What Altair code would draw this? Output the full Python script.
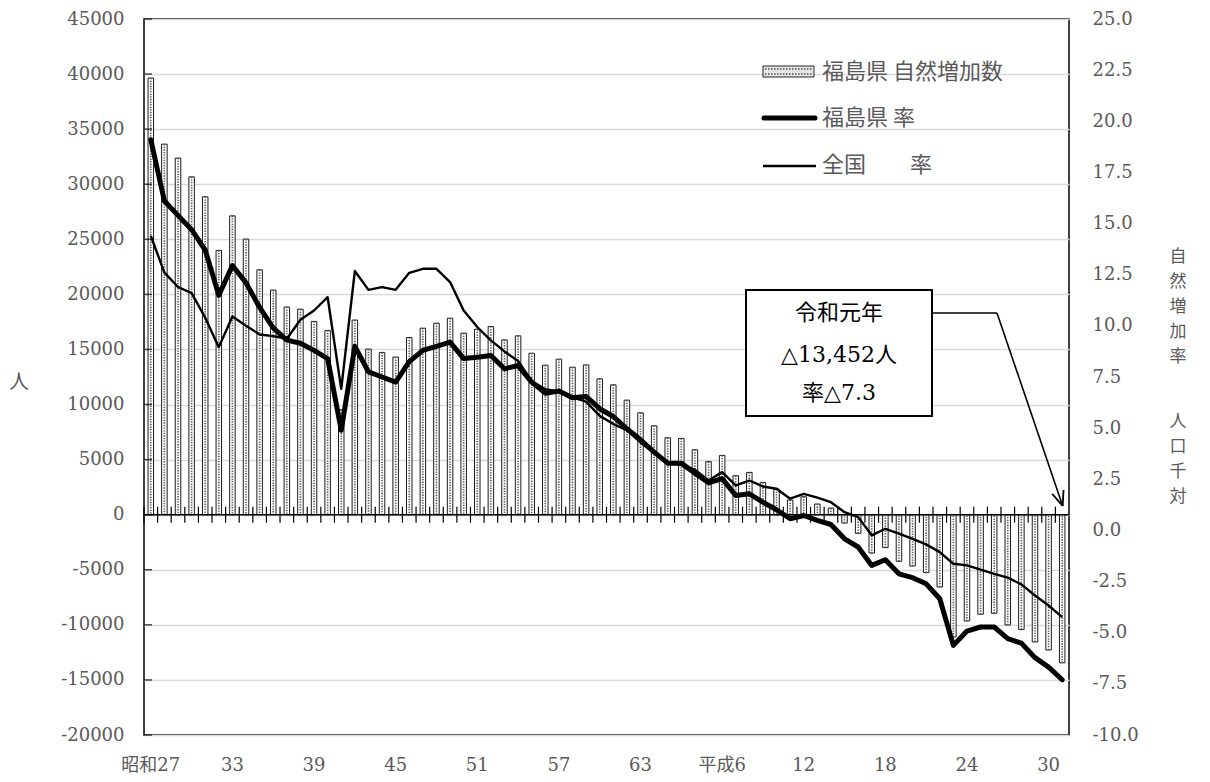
import altair as alt
import pandas as pd

# ---------------- data ----------------
years = [str(y) for y in range(1952, 2020)]  # 昭和27 … 令和元

natural_increase = [
    39640, 33640, 32370, 30670, 28860, 23990, 27130, 25020, 22230, 20390,
    18850, 18660, 17545, 16730, 9530, 17670, 15030, 14730, 14310, 16090,
    16930, 17380, 17840, 16480, 16840, 17080, 15870, 16235, 14660, 13575,
    14120, 13390, 13600, 12335, 11790, 10400, 9250, 8070, 6985, 6925,
    5895, 4820, 5380, 3540, 3840, 2930, 2330, 1330, 1630, 970,
    600, -760, -1690, -3480, -2990, -4230, -4660, -5260, -6560, -11100,
    -9650, -9040, -8950, -10010, -10430, -11550, -12280, -13452,
]

fukushima_rate = [
    19.1, 16.1, 15.4, 14.7, 13.7, 11.5, 12.95, 12.1, 10.9, 9.9,
    9.3, 9.15, 8.8, 8.4, 4.9, 9.0, 7.75, 7.5, 7.25, 8.25,
    8.8, 9.0, 9.2, 8.4, 8.47, 8.55, 7.9, 8.06, 7.25, 6.71,
    6.81, 6.49, 6.55, 5.95, 5.57, 4.97, 4.43, 3.83, 3.29, 3.29,
    2.8, 2.33, 2.53, 1.71, 1.79, 1.38, 1.01, 0.57, 0.73, 0.49,
    0.29, -0.41, -0.81, -1.71, -1.43, -2.12, -2.31, -2.61, -3.34, -5.62,
    -4.92, -4.72, -4.72, -5.29, -5.51, -6.22, -6.68, -7.3,
]

national_rate = [
    14.4, 12.6, 11.9, 11.6, 10.4, 8.96, 10.46, 10.0, 9.58, 9.5,
    9.37, 10.3, 10.75, 11.4, 6.92, 12.68, 11.76, 11.89, 11.76, 12.59,
    12.79, 12.79, 12.14, 10.75, 9.94, 9.29, 8.75, 8.28, 7.3, 6.9,
    6.8, 6.5, 6.3, 5.6, 5.2, 4.9, 4.3, 3.8, 3.3, 3.2,
    2.97, 2.44, 2.85, 2.2, 2.44, 2.15, 2.04, 1.55, 1.79, 1.6,
    1.38, 0.89, 0.65, -0.24, 0.08, -0.16, -0.41, -0.68, -1.06, -1.63,
    -1.71, -1.92, -2.12, -2.31, -2.64, -3.18, -3.67, -4.24,
]

label_years = ["1952", "1958", "1964", "1970", "1976", "1982",
               "1988", "1994", "2000", "2006", "2012", "2018"]
label_texts = ["昭和27", "33", "39", "45", "51", "57",
               "63", "平成6", "12", "18", "24", "30"]

left_ticks = [-20000, -15000, -10000, -5000, 0, 5000, 10000, 15000,
              20000, 25000, 30000, 35000, 40000, 45000]
right_ticks = [-10.0, -7.5, -5.0, -2.5, 0.0, 2.5, 5.0, 7.5, 10.0,
               12.5, 15.0, 17.5, 20.0, 22.5, 25.0]

legend_labels = ["福島県 自然増加数", "福島県 率", "全国\u3000\u3000率"]
note_lines = ["令和元年", "△13,452人", "率△7.3"]
left_title = "人"
right_title_a = ["自", "然", "増", "加", "率"]
right_title_b = ["人", "口", "千", "対"]

df = pd.DataFrame({
    "year": years,
    "count": natural_increase,
    "fk": fukushima_rate,
    "jp": national_rate,
})
labels_df = pd.DataFrame({"year": label_years, "text": label_texts})

# ---------------- styling ----------------
NUM_FONT = "DejaVu Serif, Noto Sans CJK JP"
JP_FONT = "Noto Sans CJK JP"
GREY = "#595959"

x_scale = alt.Scale(paddingInner=0, paddingOuter=0)


def X(**kw):
    return alt.X("year:O", scale=x_scale, axis=None, title=None, **kw)


left_scale = alt.Scale(domain=[-20000, 45000], nice=False)
left_axis = alt.Axis(
    values=left_ticks, grid=True, gridColor="#d9d9d9", gridWidth=1.5,
    ticks=False, domain=False, labelPadding=20, title=None,
    labelFont=NUM_FONT, labelFontSize=18, labelColor=GREY,
    labelExpr="datum.value < 0 ? '-' + format(-datum.value, 'd') : format(datum.value, 'd')",
)
right_scale = alt.Scale(domain=[-10, 25], nice=False)
right_axis = alt.Axis(
    orient="right", values=right_ticks, grid=False, ticks=False,
    domain=False, labelPadding=23, title=None, labelFont=NUM_FONT,
    labelFontSize=18, labelColor=GREY,
    labelExpr="datum.value < 0 ? '-' + format(-datum.value, '.1f') : format(datum.value, '.1f')",
)

base = alt.Chart(df)
one = alt.Data(values=[{"a": 1}])
OX, OY = 144, 19  # plot origin on the page

# ---------------- count layers (fixed domain, so independent scales coincide) ----------------
bars = base.mark_bar(size=5.5, fill="white", stroke="#1a1a1a", strokeWidth=1).encode(
    x=X(),
    y=alt.Y("count:Q", scale=left_scale, axis=left_axis, title=None),
)
dots = base.transform_calculate(z="0").mark_rule(
    color="#555555", strokeWidth=1.6, strokeDash=[1.3, 1.3]
).encode(
    x=X(),
    y=alt.Y("count:Q", scale=left_scale, axis=None),
    y2="z:Q",
)
zero_line = alt.Chart(pd.DataFrame({"z": [0]})).mark_rule(color="black", strokeWidth=1.5).encode(
    y=alt.Y("z:Q", scale=left_scale, axis=None),
)
x_ticks = base.transform_calculate(lo="-725", hi="725").mark_rule(
    color="black", strokeWidth=1.2
).encode(
    x=X(bandPosition=0),
    y=alt.Y("lo:Q", scale=left_scale, axis=None),
    y2="hi:Q",
)
y_ticks = alt.Chart(pd.DataFrame({"v": left_ticks})).mark_tick(
    orient="horizontal", size=8, thickness=1.5, color="black"
).encode(
    y=alt.Y("v:Q", scale=left_scale, axis=None),
    x=alt.value(4),
)
x_labels = alt.Chart(labels_df).mark_text(
    font=NUM_FONT, fontSize=18, color=GREY, baseline="middle", align="center"
).encode(
    x=X(),
    y=alt.value(766 - OY),
    text="text:N",
)

# ---------------- rate layers ----------------
fk_line = base.mark_line(color="black", strokeWidth=5, strokeJoin="round", strokeCap="round").encode(
    x=X(),
    y=alt.Y("fk:Q", scale=right_scale, axis=None),
)
jp_line = base.mark_line(color="black", strokeWidth=2.4, strokeJoin="round").encode(
    x=X(),
    y=alt.Y("jp:Q", scale=right_scale, axis=right_axis, title=None),
)

# ---------------- annotations (pixel positions) ----------------


def seg(x1, y1, x2, y2, w=1.5, dash=None, cap="butt"):
    kw = dict(color="black", strokeWidth=w, strokeCap=cap)
    if dash:
        kw["strokeDash"] = dash
    return alt.Chart(one).mark_rule(**kw).encode(
        x=alt.value(x1 - OX), y=alt.value(y1 - OY),
        x2=alt.value(x2 - OX), y2=alt.value(y2 - OY),
    )


def txt(s, x, y, size=20, font=JP_FONT, color=GREY, align="left", baseline="middle"):
    return alt.Chart(one).mark_text(
        font=font, fontSize=size, color=color, align=align, baseline=baseline
    ).encode(
        x=alt.value(x - OX), y=alt.value(y - OY), text=alt.value(s),
    )


def rect(x1, y1, x2, y2, fill="white", stroke="black", w=1.0):
    return alt.Chart(one).mark_rect(fill=fill, stroke=stroke, strokeWidth=w).encode(
        x=alt.value(x1 - OX), y=alt.value(y1 - OY),
        x2=alt.value(x2 - OX), y2=alt.value(y2 - OY),
    )


annots = [
    # legend
    rect(763, 66, 814, 77, fill="#e6e6e6", stroke="#222222", w=1.0),
    seg(765, 69, 812, 69, w=1.2, dash=[1.5, 1.5]),
    seg(765, 74, 812, 74, w=1.2, dash=[1.5, 1.5]),
    txt(legend_labels[0], 822, 72, size=22),
    seg(764, 118, 815, 118, w=5, cap="round"),
    txt(legend_labels[1], 822, 118, size=22),
    seg(763, 166, 816, 166, w=2.4),
    txt(legend_labels[2], 822, 165, size=22),
    # note box
    rect(746, 290, 932, 416, fill="white", stroke="black", w=2.0),
    txt(note_lines[0], 839, 313, size=22, font=NUM_FONT, color="black", align="center"),
    txt(note_lines[1], 839, 355, size=22, font=NUM_FONT, color="black", align="center"),
    txt(note_lines[2], 839, 393, size=22, font=NUM_FONT, color="black", align="center"),
    # connector + arrow
    seg(932, 313, 997, 313, w=1.6),
    seg(997, 313, 1062.7, 506, w=1.6),
    seg(1062.7, 506, 1063.5, 490, w=1.8),
    seg(1062.7, 506, 1052.2, 493.8, w=1.8),
    # axis titles
    txt(left_title, 19, 383, size=20, align="center"),
]
for k, ch in enumerate(right_title_a):
    annots.append(txt(ch, 1178, 257 + 25 * k, size=17, align="center"))
for k, ch in enumerate(right_title_b):
    annots.append(txt(ch, 1178, 422 + 25 * k, size=17, align="center"))

chart = alt.layer(
    bars, dots, zero_line, x_ticks, y_ticks, fk_line, jp_line, x_labels, *annots
).resolve_scale(y="independent").properties(
    width=925,
    height=716,
    padding={"left": 136, "top": 11, "right": 125, "bottom": 39},
    autosize=alt.AutoSizeParams(type="none"),
    background="white",
).configure_view(stroke="black", strokeWidth=1.5)

chart.save("out.html", embed_options={"renderer": "svg", "actions": False})
